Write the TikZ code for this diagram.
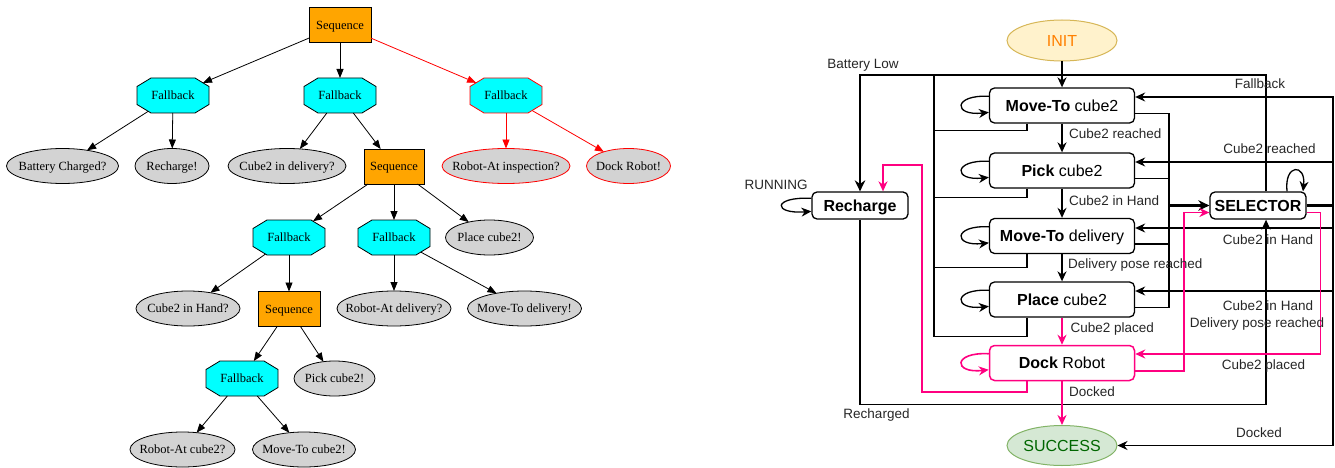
\documentclass[tikz,border=0pt]{standalone}
\usepackage{fontspec}
\setmainfont{Liberation Sans}
\newfontfamily\timesf{Liberation Serif}
\usetikzlibrary{arrows.meta,shapes.geometric}
\definecolor{btorange}{HTML}{FFA500}
\definecolor{btcyan}{HTML}{00FFFF}
\definecolor{btgray}{HTML}{D3D3D3}
\definecolor{btredc}{HTML}{FF0000}
\definecolor{pinkc}{HTML}{FF0080}
\definecolor{initfill}{HTML}{FFF2CC}
\definecolor{initdraw}{HTML}{D6B656}
\definecolor{inittext}{HTML}{FF8000}
\definecolor{succfill}{HTML}{D5E8D4}
\definecolor{succdraw}{HTML}{82B366}
\definecolor{succtext}{HTML}{006600}
\newcommand\btlabel[1]{\makebox[0pt]{#1}}
\makeatletter
\def\octchx{14}
\def\octchy{8.5}
\pgfdeclareshape{octbox}{%
  \inheritsavedanchors[from=rectangle]%
  \inheritanchor[from=rectangle]{center}%
  \inheritanchor[from=rectangle]{north}%
  \inheritanchor[from=rectangle]{south}%
  \inheritanchor[from=rectangle]{east}%
  \inheritanchor[from=rectangle]{west}%
  \anchorborder{%
    \pgf@xb=\pgf@x \pgf@yb=\pgf@y
    \southwest \pgf@xa=\pgf@x \pgf@ya=\pgf@y
    \northeast
    \advance\pgf@x by-\pgf@xa \advance\pgf@y by-\pgf@ya
    \pgf@xc=.5\pgf@x \pgf@yc=.5\pgf@y
    \advance\pgf@xa by\pgf@xc \advance\pgf@ya by\pgf@yc
    \edef\oct@ha{\pgf@sys@tonumber\pgf@xc}%
    \edef\oct@hb{\pgf@sys@tonumber\pgf@yc}%
    \edef\oct@mx{\the\pgf@xa}%
    \edef\oct@my{\the\pgf@ya}%
    \pgfpointnormalised{\pgfqpoint{\pgf@xb}{\pgf@yb}}%
    \edef\oct@ux{\pgf@sys@tonumber\pgf@x}%
    \edef\oct@uy{\pgf@sys@tonumber\pgf@y}%
    \pgfmathsetmacro\oct@t{min(\oct@ha/max(abs(\oct@ux),0.01),\oct@hb/max(abs(\oct@uy),0.01),(\oct@ha*\octchy+\oct@hb*\octchx-\octchx*\octchy)/(abs(\oct@ux)*\octchy+abs(\oct@uy)*\octchx))}%
    \pgf@x=\oct@ux pt\relax
    \pgf@x=\oct@t\pgf@x
    \advance\pgf@x by\oct@mx\relax
    \pgf@y=\oct@uy pt\relax
    \pgf@y=\oct@t\pgf@y
    \advance\pgf@y by\oct@my\relax
  }%
  \backgroundpath{%
    \southwest \edef\oct@l{\the\pgf@x}\edef\oct@d{\the\pgf@y}%
    \northeast \edef\oct@r{\the\pgf@x}\edef\oct@u{\the\pgf@y}%
    \pgfpathmoveto{\pgfpoint{\oct@l+\octchx pt}{\oct@d}}%
    \pgfpathlineto{\pgfpoint{\oct@r-\octchx pt}{\oct@d}}%
    \pgfpathlineto{\pgfpoint{\oct@r}{\oct@d+\octchy pt}}%
    \pgfpathlineto{\pgfpoint{\oct@r}{\oct@u-\octchy pt}}%
    \pgfpathlineto{\pgfpoint{\oct@r-\octchx pt}{\oct@u}}%
    \pgfpathlineto{\pgfpoint{\oct@l+\octchx pt}{\oct@u}}%
    \pgfpathlineto{\pgfpoint{\oct@l}{\oct@u-\octchy pt}}%
    \pgfpathlineto{\pgfpoint{\oct@l}{\oct@d+\octchy pt}}%
    \pgfpathclose
  }%
}
\makeatother
\begin{document}
\begin{tikzpicture}[x=1pt,y=-1pt,
  bt/.style={font=\timesf\fontsize{12.5}{14}\selectfont, inner sep=0pt, outer sep=0pt, line width=0.8pt, draw=black, text height=8.3pt, text depth=0pt},
  seqn/.style={bt, rectangle, fill=btorange, minimum width=62pt, minimum height=35pt},
  fbn/.style={bt, octbox, fill=btcyan, minimum width=72pt, minimum height=35pt},
  leaf/.style={bt, ellipse, fill=btgray, minimum height=35pt},
  btedge/.style={line width=0.8pt, draw=black, -{Triangle[length=9pt,width=7pt]}},
  state/.style={draw=black, line width=1.3pt, rounded corners=5pt, fill=white, minimum width=145pt, minimum height=35pt, inner sep=0pt, font=\fontsize{16}{19}\selectfont, text height=11.5pt, text depth=0pt},
  smallstate/.style={state, minimum width=96pt, minimum height=27pt},
  initn/.style={ellipse, draw=initdraw, fill=initfill, text=inittext, line width=1pt, minimum width=110pt, minimum height=41pt, inner sep=0pt, font=\fontsize{16}{19}\selectfont, text height=11.5pt, text depth=0pt},
  succn/.style={initn, draw=succdraw, fill=succfill, text=succtext, minimum height=40pt},
  elab/.style={font=\fontsize{13.5}{16}\selectfont, text=black!85, inner sep=0pt, text height=9.7pt, text depth=0pt},
  arr/.style={-{Stealth[length=10pt,width=9pt]}},
  arrthk/.style={-{Stealth[length=11pt,width=10.5pt]}},
  ln/.style={line width=1.3pt, draw=black},
  thk/.style={line width=2.2pt, draw=black},
  flow/.style={line width=2pt, draw=black, arr},
  pinkln/.style={line width=1.6pt, draw=pinkc, arr}
]
\useasboundingbox (0,0) rectangle (1335,468);

% ---------------- Behaviour tree (left) ----------------
\node[seqn] (s0) at (340,25) {Sequence};
\node[fbn] (f1) at (173,95.5) {Fallback};
\node[fbn] (f2) at (340,95.5) {Fallback};
\node[fbn, draw=btredc] (f3) at (506,95.5) {Fallback};
\node[leaf, minimum width=112pt] (bc) at (62.5,166) {\btlabel{Battery Charged?}};
\node[leaf, minimum width=74pt] (rg) at (172,166) {\btlabel{Recharge!}};
\node[leaf, minimum width=118pt] (cd) at (287,166) {\btlabel{Cube2 in delivery?}};
\node[seqn, minimum width=60pt] (s1) at (394,166.5) {Sequence};
\node[leaf, minimum width=128pt, draw=btredc] (ri) at (506,166) {\btlabel{Robot-At inspection?}};
\node[leaf, minimum width=84pt, draw=btredc] (dr) at (628.5,166) {\btlabel{Dock Robot!}};
\node[fbn] (fa) at (289,237.5) {Fallback};
\node[fbn] (fb) at (394,237.5) {Fallback};
\node[leaf, minimum width=88pt] (pc) at (489.5,237.5) {\btlabel{Place cube2!}};
\node[leaf, minimum width=104pt] (ch) at (188,308.5) {\btlabel{Cube2 in Hand?}};
\node[seqn] (s2) at (289,309) {Sequence};
\node[leaf, minimum width=114pt] (rd) at (394,308.5) {\btlabel{Robot-At delivery?}};
\node[leaf, minimum width=114pt] (mdl) at (524.5,308.5) {\btlabel{Move-To delivery!}};
\node[fbn] (fc) at (242,378.5) {Fallback};
\node[leaf, minimum width=81pt] (pcb) at (334.5,378.5) {\btlabel{Pick cube2!}};
\node[leaf, minimum width=105pt] (rcb) at (182.5,449.5) {\btlabel{Robot-At cube2?}};
\node[leaf, minimum width=103pt] (mcb) at (304,449.5) {\btlabel{Move-To cube2!}};

\draw[btedge] (s0) -- (f1);
\draw[btedge] (s0) -- (f2);
\draw[btedge, draw=btredc] (s0) -- (f3);
\draw[btedge] (f1) -- (bc);
\draw[btedge] (f1) -- (rg);
\draw[btedge] (f2) -- (cd);
\draw[btedge] (f2) -- (s1);
\draw[btedge, draw=btredc] (f3) -- (ri);
\draw[btedge, draw=btredc] (f3) -- (dr);
\draw[btedge] (s1) -- (fa);
\draw[btedge] (s1) -- (fb);
\draw[btedge] (s1) -- (pc);
\draw[btedge] (fa) -- (ch);
\draw[btedge] (fa) -- (s2);
\draw[btedge] (fb) -- (rd);
\draw[btedge] (fb) -- (mdl);
\draw[btedge] (s2) -- (fc);
\draw[btedge] (s2) -- (pcb);
\draw[btedge] (fc) -- (rcb);
\draw[btedge] (fc) -- (mcb);

% ---------------- State machine (right) ----------------
\node[initn] (init) at (1062,40.5) {INIT};
\node[state] (mt) at (1062,105.5) {\textbf{Move-To} cube2};
\node[state] (pk) at (1062,170.5) {\textbf{Pick} cube2};
\node[state] (md) at (1062,236) {\textbf{Move-To} delivery};
\node[state] (pl) at (1062,299.5) {\textbf{Place} cube2};
\node[state, draw=pinkc, line width=1.5pt] (dk) at (1062,363) {\textbf{Dock} Robot};
\node[succn] (succ) at (1062,445.5) {\btlabel{SUCCESS}};
\node[smallstate] (rc) at (860,205.5) {\textbf{Recharge}};
\node[smallstate] (sel) at (1258,205.5) {\textbf{SELECTOR}};

\coordinate (bTop) at (934,75);
\coordinate (sIn) at (1169,205.5);
\coordinate (sOut) at (1333,205.5);

% fallback bus to Recharge (Battery Low)
\draw[ln] ([xshift=-35pt]mt.south) -- ++(0,7) -| (bTop);
\draw[ln] ([xshift=-35pt]pk.south) -- ++(0,9) -| (bTop);
\draw[ln] ([xshift=-35pt]md.south) -- ++(0,13) -| (bTop);
\draw[ln] ([xshift=-35pt]pl.south) -- ++(0,19) -| (bTop);
\draw[ln] ([xshift=8pt]sel.north) |- (bTop);
\draw[thk, arrthk] (bTop) -| (rc.north);
\draw[ln, arr] (rc.south) -- ++(0,185) -| ([xshift=8pt]sel.south);

% states to SELECTOR
\draw[ln] ([yshift=-8pt]mt.east) -| (sIn);
\draw[ln] ([yshift=-8pt]pk.east) -| (sIn);
\draw[ln] ([yshift=-8pt]md.east) -| (sIn);
\draw[ln] ([yshift=-8pt]pl.east) -| (sIn);
\draw[thk, arrthk] (sIn) -- (sel.west);

% SELECTOR to states
\draw[thk] (sel.east) -- (sOut);
\draw[ln, arr] (sOut) |- ([yshift=8.5pt]mt.east);
\draw[ln, arr] (sOut) |- ([yshift=8.5pt]pk.east);
\draw[ln, arr] (sOut) |- ([yshift=8pt]md.east);
\draw[ln, arr] (sOut) |- ([yshift=8.5pt]pl.east);
\draw[ln, arr] (sOut) |- (succ.east);

% pink connectors
\draw[pinkln] ([yshift=-7pt]sel.east) -- ++(14,0) |- ([yshift=9pt]dk.east);
\draw[pinkln] ([yshift=-8pt]dk.east) -- ++(49,0) |- ([yshift=-7pt]sel.west);
\draw[pinkln] ([xshift=-35pt]dk.south) -- ++(0,11) -- ++(-105,0) -- ++(0,-227) -| ([xshift=23pt]rc.north);

% main flow
\draw[flow] (init) -- (mt);
\draw[flow] (mt) -- (pk);
\draw[flow] (pk) -- (md);
\draw[flow] (md) -- (pl);
\draw[flow, draw=pinkc] (pl) -- (dk);
\draw[flow, draw=pinkc] (dk) -- (succ);

% self loops
\draw[ln, arr] ([yshift=-9pt]mt.north west) .. controls +(-36,-2) and +(-36,4) .. ([yshift=-25pt]mt.north west);
\draw[ln, arr] ([yshift=-9pt]pk.north west) .. controls +(-36,-2) and +(-36,4) .. ([yshift=-25pt]pk.north west);
\draw[ln, arr] ([yshift=-9pt]md.north west) .. controls +(-36,-2) and +(-36,4) .. ([yshift=-25pt]md.north west);
\draw[ln, arr] ([yshift=-9pt]pl.north west) .. controls +(-36,-2) and +(-36,4) .. ([yshift=-25pt]pl.north west);
\draw[pinkln] ([yshift=-9pt]dk.north west) .. controls +(-36,-2) and +(-36,4) .. ([yshift=-25pt]dk.north west);
\draw[ln, arr] ([yshift=-7pt]rc.north west) .. controls +(-39,-2) and +(-39,3) .. ([yshift=-20pt]rc.north west);
\draw[ln, arr] ([xshift=29pt]sel.north) .. controls +(-3,-28) and +(3,-28) .. ([xshift=45pt]sel.north);

% labels
\node[elab] (lbBL) at (863,64) {Battery Low};
\node[elab] (lbRun) at (776,185) {RUNNING};
\node[elab] (lbRch) at (876.5,414) {Recharged};
\node[elab] (lbFb) at (1260,84) {Fallback};
\node[elab] (lbCr) at (1269.5,149) {Cube2 reached};
\node[elab] (lbCh1) at (1268,240) {Cube2 in Hand};
\node[elab] (lbCh2) at (1268,306) {Cube2 in Hand};
\node[elab] (lbDp) at (1257,323) {Delivery pose reached};
\node[elab] (lbCp) at (1263.5,365) {Cube2 placed};
\node[elab] (lbDk) at (1259,433) {Docked};
\node[elab, anchor=west] (lv1) at (1069,134) {Cube2 reached};
\node[elab, anchor=west] (lv2) at (1069,201) {Cube2 in Hand};
\node[elab, anchor=west] (lv3) at (1068,264) {Delivery pose reached};
\node[elab, anchor=west] (lv4) at (1070.5,328) {Cube2 placed};
\node[elab, anchor=west] (lv5) at (1069,392) {Docked};
\end{tikzpicture}
\end{document}
